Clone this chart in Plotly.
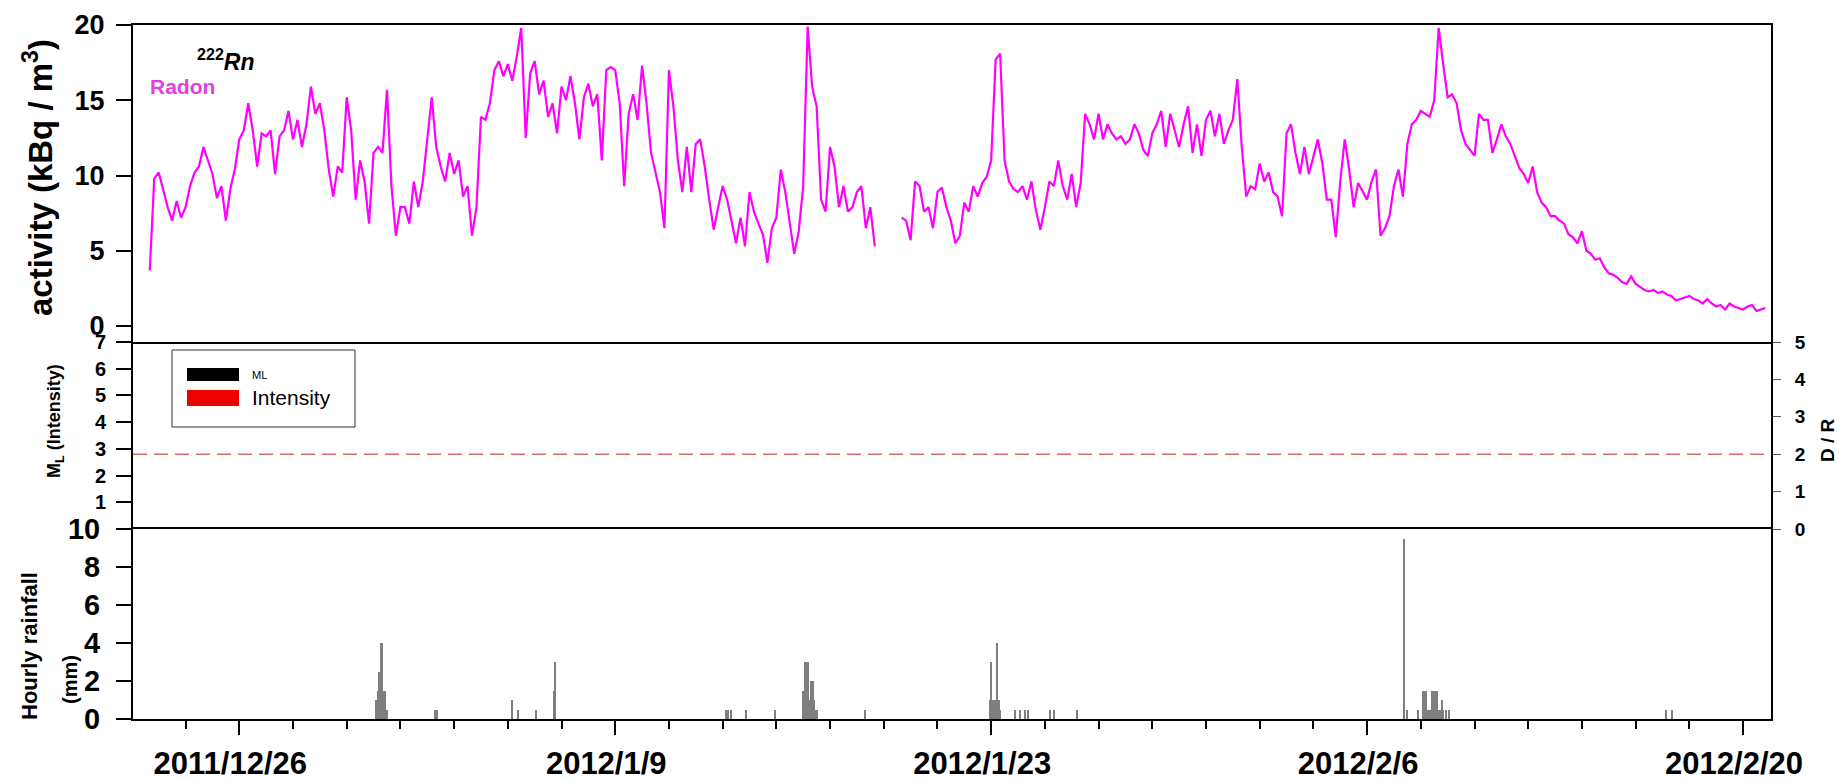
import pandas as pd
import plotly.graph_objects as go

# ---------------- data ----------------
radon_start = "2011-12-22 16:00"   # 4-hourly samples
radon = [
    3.7, 9.8,
    10.2, 9.0, 7.9, 7.0, 8.3, 7.2,      # 12/23
    7.9, 9.3, 10.2, 10.6, 11.9, 11.0,   # 12/24
    10.1, 8.5, 9.3, 7.0, 9.1, 10.4,     # 12/25
    12.4, 13.0, 14.8, 13.0, 10.6, 12.8, # 12/26
    12.6, 13.0, 10.1, 12.6, 13.0, 14.3, # 12/27
    12.4, 13.7, 11.9, 13.4, 15.9, 14.1, # 12/28
    14.8, 13.0, 10.4, 8.6, 10.6, 10.2,  # 12/29
    15.2, 13.0, 8.4, 11.0, 9.6, 6.8,    # 12/30
    11.5, 11.9, 11.5, 15.7, 9.3, 6.0,   # 12/31
    7.9, 7.9, 6.8, 9.6, 7.9, 9.6,       # 1/1
    12.4, 15.2, 11.9, 10.6, 9.6, 11.5,  # 1/2
    10.1, 11.0, 8.6, 9.3, 6.0, 7.9,     # 1/3
    13.9, 13.7, 14.8, 17.0, 17.6, 16.6, # 1/4
    17.4, 16.3, 17.9, 19.8, 12.5, 16.8, # 1/5
    17.6, 15.4, 16.3, 13.9, 14.8, 12.8, # 1/6
    15.9, 15.0, 16.6, 14.8, 12.4, 15.2, # 1/7
    16.1, 14.6, 15.4, 11.0, 17.0, 17.2, # 1/8
    17.0, 14.8, 9.3, 14.1, 15.4, 13.7,  # 1/9
    17.3, 14.8, 11.5, 10.2, 8.9, 6.5,   # 1/10
    17.0, 14.6, 11.0, 8.9, 11.9, 8.9,   # 1/11
    12.1, 12.4, 10.6, 8.4, 6.4, 7.9,    # 1/12
    9.3, 8.4, 7.0, 5.5, 7.2, 5.3,       # 1/13
    8.9, 7.6, 6.8, 6.1, 4.2, 6.5,       # 1/14
    7.2, 10.4, 8.9, 7.0, 4.8, 6.3,      # 1/15
    9.3, 19.9, 15.9, 14.6, 8.4, 7.6,    # 1/16
    11.9, 10.6, 7.9, 9.3, 7.6, 7.9,     # 1/17
    8.9, 9.3, 6.5, 7.9, 5.3, None,      # 1/18
    None, None, None, None, 7.2, 7.0,   # 1/19
    5.7, 9.6, 9.3, 7.6, 7.9, 6.5,       # 1/20
    8.9, 9.2, 7.9, 7.0, 5.5, 6.0,       # 1/21
    8.2, 7.6, 9.3, 8.6, 9.5, 9.9,       # 1/22
    11.0, 17.7, 18.1, 11.0, 9.6, 9.1,   # 1/23
    8.9, 9.3, 8.4, 9.6, 7.7, 6.4,       # 1/24
    7.9, 9.6, 9.3, 11.0, 9.3, 8.4,      # 1/25
    10.1, 7.9, 9.5, 14.1, 13.4, 12.4,   # 1/26
    14.1, 12.4, 13.4, 12.8, 12.4, 12.6, # 1/27
    12.1, 12.4, 13.4, 12.8, 11.7, 11.3, # 1/28
    12.8, 13.4, 14.3, 11.9, 14.1, 13.0, # 1/29
    11.9, 13.4, 14.6, 11.5, 13.4, 11.3, # 1/30
    13.7, 14.3, 12.6, 14.1, 12.1, 13.0, # 1/31
    13.7, 16.4, 11.9, 8.6, 9.3, 9.1,    # 2/1
    10.8, 9.6, 10.2, 8.9, 8.6, 7.3,     # 2/2
    12.8, 13.4, 11.5, 10.1, 11.9, 10.1, # 2/3
    11.3, 12.4, 10.8, 8.4, 8.4, 5.9,    # 2/4
    9.6, 12.4, 10.4, 7.9, 9.5, 8.9,     # 2/5
    8.4, 9.6, 10.4, 6.0, 6.5, 7.3,      # 2/6
    9.3, 10.4, 8.6, 12.1, 13.4, 13.7,   # 2/7
    14.3, 14.1, 13.9, 15.0, 19.8, 17.4, # 2/8
    15.2, 15.4, 14.8, 13.0, 12.1, 11.7, # 2/9
    11.3, 14.1, 13.7, 13.7, 11.5, 12.4, # 2/10
    13.4, 12.6, 12.1, 11.3, 10.5, 10.1, # 2/11
    9.5, 10.6, 8.9, 8.2, 7.9, 7.3,      # 2/12
    7.3, 7.0, 6.8, 6.1, 5.9, 5.5,       # 2/13
    6.3, 5.0, 4.8, 4.4, 4.5, 3.9,       # 2/14
    3.5, 3.4, 3.2, 2.9, 2.8, 3.3,       # 2/15
    2.8, 2.6, 2.4, 2.3, 2.4, 2.2,       # 2/16
    2.3, 2.1, 2.0, 1.7, 1.8, 1.9,       # 2/17
    2.0, 1.8, 1.7, 1.5, 1.8, 1.5,       # 2/18
    1.3, 1.4, 1.1, 1.5, 1.3, 1.2,       # 2/19
    1.1, 1.3, 1.4, 1.0, 1.1, 1.2,       # 2/20
]

rain_time = [
    "2011-12-31 02:00", "2011-12-31 03:00", "2011-12-31 04:00", "2011-12-31 05:00",
    "2011-12-31 06:00", "2011-12-31 07:00", "2011-12-31 08:00", "2011-12-31 09:00",
    "2011-12-31 10:00", "2011-12-31 11:00", "2011-12-31 12:00",
    "2012-01-02 07:00", "2012-01-02 09:00",
    "2012-01-05 04:00", "2012-01-05 09:00", "2012-01-06 01:00",
    "2012-01-06 17:00", "2012-01-06 18:00",
    "2012-01-13 03:00", "2012-01-13 05:00", "2012-01-13 08:00", "2012-01-13 21:00",
    "2012-01-14 23:00",
    "2012-01-16 00:00", "2012-01-16 01:00", "2012-01-16 02:00", "2012-01-16 03:00",
    "2012-01-16 04:00", "2012-01-16 05:00", "2012-01-16 06:00", "2012-01-16 07:00",
    "2012-01-16 08:00", "2012-01-16 09:00", "2012-01-16 10:00", "2012-01-16 11:00",
    "2012-01-16 12:00",
    "2012-01-18 07:00",
    "2012-01-22 23:00", "2012-01-23 00:00", "2012-01-23 01:00", "2012-01-23 02:00",
    "2012-01-23 03:00", "2012-01-23 04:00", "2012-01-23 05:00", "2012-01-23 06:00",
    "2012-01-23 07:00", "2012-01-23 08:00",
    "2012-01-23 21:00", "2012-01-24 02:00", "2012-01-24 06:00", "2012-01-24 09:00",
    "2012-01-25 05:00", "2012-01-25 08:00", "2012-01-26 05:00",
    "2012-02-07 09:00", "2012-02-07 12:00", "2012-02-07 22:00",
    "2012-02-08 02:00", "2012-02-08 03:00", "2012-02-08 04:00", "2012-02-08 05:00",
    "2012-02-08 06:00", "2012-02-08 07:00", "2012-02-08 08:00", "2012-02-08 09:00",
    "2012-02-08 10:00", "2012-02-08 11:00", "2012-02-08 12:00", "2012-02-08 13:00",
    "2012-02-08 14:00", "2012-02-08 15:00", "2012-02-08 16:00", "2012-02-08 17:00",
    "2012-02-08 19:00", "2012-02-08 20:00", "2012-02-08 23:00", "2012-02-09 01:00",
    "2012-02-17 03:00", "2012-02-17 09:00",
]
rain_mm = [
    1.0, 1.0, 1.5, 2.5,
    2.5, 4.0, 4.0, 1.5,
    1.5, 0.5, 0.5,
    0.5, 0.5,
    1.0, 0.5, 0.5,
    1.5, 3.0,
    0.5, 0.5, 0.5, 0.5,
    0.5,
    1.5, 1.5, 3.0, 3.0,
    3.0, 1.0, 1.0, 2.0,
    2.0, 2.0, 1.0, 0.5,
    0.5,
    0.5,
    1.0, 3.0, 1.0, 1.0,
    1.0, 1.0, 4.0, 1.0,
    1.0, 0.5,
    0.5, 0.5, 0.5, 0.5,
    0.5, 0.5, 0.5,
    9.5, 0.5, 0.5,
    1.5, 1.5, 1.5, 1.5,
    0.5, 0.5, 0.5, 0.5,
    1.5, 1.5, 1.5, 1.5,
    1.5, 1.5, 0.5, 0.5,
    1.0, 0.5, 0.5, 0.5,
    0.5, 0.5,
]

# no earthquakes recorded in the window: the ML / intensity series are empty
ml_time, ml_value = [], []
intensity_time, intensity_dr = [], []

dr_threshold = 2.0      # D/R reference level (right axis)

x_range = ["2011-12-22 01:00", "2012-02-21 01:00"]
label_dates = ["2011-12-26", "2012-01-09", "2012-01-23", "2012-02-06", "2012-02-20"]
label_text = ["2011/12/26", "2012/1/9", "2012/1/23", "2012/2/6", "2012/2/20"]

radon_time = pd.date_range(radon_start, periods=len(radon), freq="4h")

# ---------------- layout helpers ----------------
W, H = 1839, 781
L, R, T, B = 133, 68, 25, 62
PW, PH = W - L - R, H - T - B


def px(x):
    return (x - L) / PW


def py(y):
    return (H - B - y) / PH


FONT = "Liberation Sans, Arial, sans-serif"
BOLD = dict(family=FONT, color="black", weight="bold")

d_bot = [0, py(529)]
d_mid = [py(529), py(342)]
d_top = [py(342), 1]

fig = go.Figure()

fig.add_trace(go.Scatter(
    x=radon_time, y=radon, mode="lines", xaxis="x3", yaxis="y4",
    line=dict(color="#FF00FF", width=2.2), connectgaps=False, showlegend=False))

fig.add_trace(go.Bar(
    x=pd.to_datetime(rain_time), y=rain_mm, xaxis="x", yaxis="y",
    width=3600000 * 1.1, marker=dict(color="#7f7f7f", line=dict(width=0)),
    showlegend=False))

fig.add_trace(go.Bar(x=ml_time, y=ml_value, xaxis="x2", yaxis="y2",
                     marker=dict(color="black"), name="ML", showlegend=False))
fig.add_trace(go.Bar(x=intensity_time, y=intensity_dr, xaxis="x2", yaxis="y3",
                     marker=dict(color="#ee0000"), name="Intensity", showlegend=False))

xcommon = dict(type="date", range=x_range, showgrid=False, zeroline=False,
               linecolor="black", linewidth=2, automargin=False)

ycommon = dict(showgrid=False, zeroline=False, showline=True, linecolor="black",
               linewidth=2, automargin=False, tickmode="array", showticklabels=True)

fig.update_layout(
    width=W, height=H, margin=dict(l=L, r=R, t=T, b=B, autoexpand=False),
    paper_bgcolor="white", plot_bgcolor="white", showlegend=False,
    bargap=0,
    xaxis=dict(**xcommon, anchor="y", domain=[0, 1], showline=True, mirror=True,
               tickmode="array", tickvals=label_dates, ticktext=label_text,
               ticks="outside", ticklen=14, tickwidth=2, tickcolor="black",
               tickfont=dict(size=31, **BOLD), ticklabelshift=-9,
               ticklabelstandoff=2,
               minor=dict(ticks="outside", ticklen=8, tickwidth=2,
                          tickcolor="black", dtick=2 * 86400000,
                          tick0="2011-12-26", showgrid=False)),
    xaxis2=dict(**xcommon, anchor="y2", matches="x", showline=False,
                showticklabels=False, ticks=""),
    xaxis3=dict(**xcommon, anchor="y4", matches="x", showline=True, mirror=True,
                showticklabels=False, ticks=""),
    yaxis=dict(**ycommon, domain=d_bot, range=[0, 10], tickvals=[0, 2, 4, 6, 8, 10],
               mirror=True, ticks="outside", ticklen=15, tickwidth=1.5,
               tickcolor="black", tickfont=dict(size=29, **BOLD),
               ticklabelstandoff=10, anchor="x"),
    yaxis2=dict(**ycommon, domain=d_mid, range=[0, 7], tickvals=[1, 2, 3, 4, 5, 6, 7],
                ticks="outside", ticklen=15, tickwidth=1.5,
                tickcolor="black", tickfont=dict(size=20, **BOLD),
                ticklabelstandoff=6, anchor="x2", side="left"),
    yaxis3=dict(**ycommon, domain=d_mid, range=[0, 5], tickvals=[0, 1, 2, 3, 4, 5],
                overlaying="y2", side="right", anchor="x2",
                ticks="outside", ticklen=8, tickwidth=1,
                tickcolor="#555", tickfont=dict(size=19, **BOLD),
                ticklabelstandoff=10),
    yaxis4=dict(**ycommon, domain=d_top, range=[-1.06, 20], tickvals=[0, 5, 10, 15, 20],
                mirror=True, ticks="outside", ticklen=15, tickwidth=1.5,
                tickcolor="black", tickfont=dict(size=27, **BOLD),
                ticklabelstandoff=6, anchor="x3"),
)

# threshold dashed line on the D/R axis
fig.add_shape(type="line", xref="paper", x0=0, x1=1, yref="y3",
              y0=dr_threshold, y1=dr_threshold,
              line=dict(color="#d46a6a", width=1.5, dash="14px,7px"))

# legend of the middle panel (drawn by hand)
fig.add_shape(type="rect", xref="paper", yref="paper",
              x0=px(172), x1=px(355), y0=py(427), y1=py(350),
              line=dict(color="#333", width=1), fillcolor="white")
fig.add_shape(type="rect", xref="paper", yref="paper",
              x0=px(187), x1=px(239), y0=py(381), y1=py(368),
              line=dict(width=0), fillcolor="black")
fig.add_shape(type="rect", xref="paper", yref="paper",
              x0=px(187), x1=px(239), y0=py(406), y1=py(390),
              line=dict(width=0), fillcolor="#ee0000")

ann = []


def a(text, x, y, size, angle=0, color="black", weight="bold", xanchor="center",
      family=FONT):
    ann.append(dict(text=text, x=px(x), y=py(y), xref="paper", yref="paper",
                    showarrow=False, textangle=angle, xanchor=xanchor, yanchor="middle",
                    font=dict(size=size, color=color, family=family, weight=weight)))


a("ML", 250, 375, 11, weight="normal", xanchor="left")
a("Intensity", 250, 397, 21, weight="normal", xanchor="left")
a("activity (kBq / m<sup>3</sup>)", 38, 178, 33, angle=-90)
a("M<sub>L</sub> (Intensity)", 55, 421, 18, angle=-90)
a("Hourly rainfall", 29, 646, 22, angle=-90)
a("(mm)", 70, 680, 20, angle=-90)
a("D / R", 1828, 440, 19, angle=-90)
a("<sup>222</sup><i>Rn</i>", 226, 60, 23, xanchor="center")
a("Radon", 182, 86, 21, color="#e040e0")

fig.update_layout(annotations=ann)

fig.write_html("out.html")
